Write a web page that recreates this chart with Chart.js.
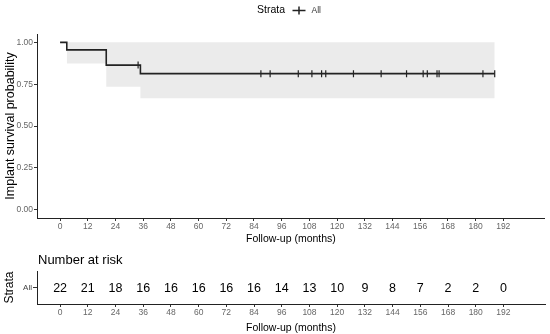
<!DOCTYPE html>
<html>
<head>
<meta charset="utf-8">
<script src="https://cdn.jsdelivr.net/npm/chart.js@4"></script>
<style>
  body { margin: 0; background: #fff; }
  canvas { display: block; }
</style>
</head>
<body>
<canvas id="survChart" width="550" height="245"></canvas>
<canvas id="riskChart" width="550" height="89"></canvas>
<script>
// Kaplan-Meier steps
const survTimes = [0, 2.9, 20, 34.8, 188.3];
const survProb = [1, 0.955, 0.864, 0.813, 0.813];

// confidence band
const bandTimes = [2.9, 20, 34.8, 188.3];
const bandUpper = [1, 1, 1, 1];
const bandLower = [0.874, 0.735, 0.666, 0.666];

// censored observations
const censorTimes = [33.8, 87, 91, 103.2, 109.1, 113.3, 115.1, 127.1, 139.1, 150.1, 157.3, 159.1, 163.3, 164.2, 183.2, 188.3];
const censorProb = [0.864, 0.813, 0.813, 0.813, 0.813, 0.813, 0.813, 0.813, 0.813, 0.813, 0.813, 0.813, 0.813, 0.813, 0.813, 0.813];

// number at risk table
const riskTimes = [0, 12, 24, 36, 48, 60, 72, 84, 96, 108, 120, 132, 144, 156, 168, 180, 192];
const riskCounts = [22, 21, 18, 16, 16, 16, 16, 16, 14, 13, 10, 9, 8, 7, 2, 2, 0];

// tick labels
const xTicks = [0, 12, 24, 36, 48, 60, 72, 84, 96, 108, 120, 132, 144, 156, 168, 180, 192];
const yTicks = [0, 0.25, 0.5, 0.75, 1];

const FONT = "'Liberation Sans', Arial, sans-serif";
Chart.defaults.font.family = FONT;
Chart.defaults.animation = false;

const xAxis = (height) => ({
    type: 'linear',
    min: -10,
    max: 210,
    afterBuildTicks: s => { s.ticks = xTicks.map(v => ({ value: v })); },
    afterFit: s => { s.height = height; },
    grid: { display: true, drawOnChartArea: false, tickLength: 3, tickColor: '#333' },
    border: { display: true, color: '#222', width: 1 },
    ticks: { font: { size: 8.5 }, color: '#666', padding: 1, maxRotation: 0, autoSkip: false },
    title: { display: true, text: 'Follow-up (months)', font: { size: 10.5 }, color: '#000', padding: 0 }
});

// legend on top
const legendPlugin = {
    id: 'stratLegend',
    afterDraw(chart) {
        const ctx = chart.ctx;
        ctx.save();
        ctx.textBaseline = 'middle';
        ctx.textAlign = 'left';
        ctx.fillStyle = '#000';
        ctx.font = '10.5px ' + FONT;
        ctx.fillText('Strata', 257, 10.5);
        ctx.strokeStyle = '#222';
        ctx.lineWidth = 1.5;
        ctx.beginPath();
        ctx.moveTo(292.5, 10.5); ctx.lineTo(305.5, 10.5);
        ctx.moveTo(299, 6.5); ctx.lineTo(299, 14.5);
        ctx.stroke();
        ctx.fillStyle = '#333';
        ctx.font = '8.5px ' + FONT;
        ctx.fillText('All', 311.5, 10.5);
        ctx.restore();
    }
};

new Chart(document.getElementById('survChart'), {
    type: 'scatter',
    data: {
        datasets: [{
            data: survTimes.map((t, i) => ({ x: t, y: survProb[i] })),
            showLine: true,
            stepped: true,
            borderColor: '#222',
            borderWidth: 1.6,
            pointRadius: 0
        }, {
            data: censorTimes.map((t, i) => ({ x: t, y: censorProb[i] })),
            pointStyle: 'line',
            rotation: 90,
            pointRadius: 3.5,
            borderColor: '#222',
            borderWidth: 1.2
        }, {
            data: bandTimes.map((t, i) => ({ x: t, y: bandUpper[i] })),
            showLine: true,
            stepped: true,
            borderWidth: 0,
            pointRadius: 0,
            fill: false
        }, {
            data: bandTimes.map((t, i) => ({ x: t, y: bandLower[i] })),
            showLine: true,
            stepped: true,
            borderWidth: 0,
            pointRadius: 0,
            backgroundColor: '#ebebeb',
            fill: '-1'
        }]
    },
    options: {
        responsive: false,
        devicePixelRatio: 1,
        layout: { padding: { top: 34, right: 5, left: 0, bottom: 0 } },
        plugins: { legend: { display: false }, tooltip: { enabled: false } },
        scales: {
            x: xAxis(27),
            y: {
                type: 'linear',
                min: -0.05,
                max: 1.05,
                afterBuildTicks: s => { s.ticks = yTicks.map(v => ({ value: v })); },
                afterFit: s => { s.width = 37; },
                grid: { display: true, drawOnChartArea: false, tickLength: 3, tickColor: '#333' },
                border: { display: true, color: '#222', width: 1 },
                ticks: { font: { size: 8.5 }, color: '#666', padding: 1, callback: v => v.toFixed(2) },
                title: { display: true, text: 'Implant survival probability', font: { size: 12.5 }, color: '#000', padding: { top: 3, bottom: 0 } }
            }
        }
    },
    plugins: [legendPlugin]
});

// numbers in the risk table + its title
const riskPlugin = {
    id: 'riskText',
    afterDatasetsDraw(chart) {
        const ctx = chart.ctx;
        const meta = chart.getDatasetMeta(0);
        ctx.save();
        ctx.fillStyle = '#000';
        ctx.textAlign = 'center';
        ctx.textBaseline = 'middle';
        ctx.font = '12.5px ' + FONT;
        meta.data.forEach((pt, i) => {
            ctx.fillText(String(riskCounts[i]), pt.x, pt.y + 1);
        });
        ctx.textAlign = 'left';
        ctx.font = '13px ' + FONT;
        ctx.fillText('Number at risk', chart.chartArea.left + 1, 15);
        ctx.restore();
    }
};

new Chart(document.getElementById('riskChart'), {
    type: 'scatter',
    data: {
        datasets: [{
            data: riskTimes.map(t => ({ x: t, y: 'All' })),
            pointRadius: 0
        }]
    },
    options: {
        responsive: false,
        devicePixelRatio: 1,
        layout: { padding: { top: 26, right: 5, left: 0, bottom: 0 } },
        plugins: { legend: { display: false }, tooltip: { enabled: false } },
        scales: {
            x: xAxis(30),
            y: {
                type: 'category',
                labels: ['All'],
                offset: true,
                afterFit: s => { s.width = 37; },
                grid: { display: true, drawOnChartArea: false, tickLength: 4, tickColor: '#333' },
                border: { display: true, color: '#222', width: 1 },
                ticks: { font: { size: 8 }, color: '#444', padding: 1 },
                title: { display: true, text: 'Strata', font: { size: 12 }, color: '#000', padding: { top: 2, bottom: 0 } }
            }
        }
    },
    plugins: [riskPlugin]
});
</script>
</body>
</html>
